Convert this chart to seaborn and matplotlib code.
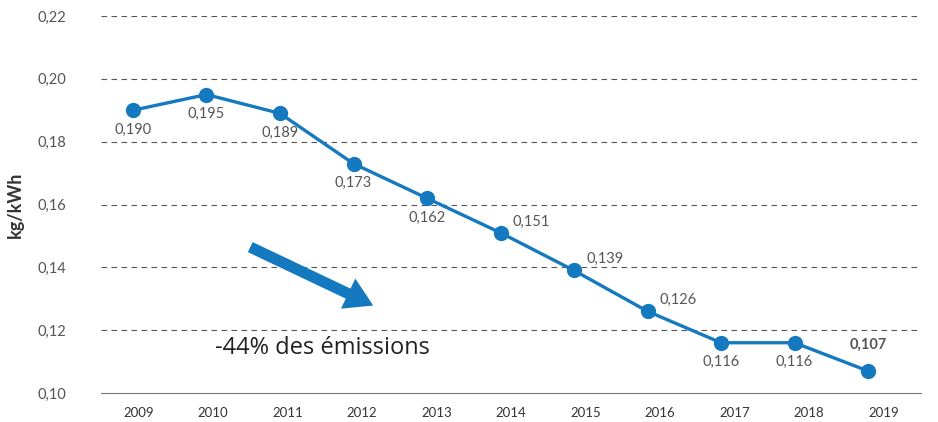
import matplotlib
matplotlib.use("Agg")
import matplotlib.pyplot as plt
import seaborn as sns
import pandas as pd

years = ["2009", "2010", "2011", "2012", "2013", "2014", "2015", "2016", "2017", "2018", "2019"]
values = [0.190, 0.195, 0.189, 0.173, 0.162, 0.151, 0.139, 0.126, 0.116, 0.116, 0.107]
# where each value label goes: below, upper-right or above
label_pos = ["below", "below", "below", "below", "below", "right", "right", "right", "below", "below", "above"]
y_ticks = [0.10, 0.12, 0.14, 0.16, 0.18, 0.20, 0.22]

blue = "#1579bf"
grey = "#555555"

sns.set_theme(style="white")
plt.rcParams["font.family"] = ["Lato", "DejaVu Sans"]

df = pd.DataFrame({"year": years, "value": values})
df["pos"] = range(len(years))

fig = plt.figure(figsize=(9.38, 4.22), dpi=100)
ax = fig.add_axes([101 / 938, 1 - 393 / 422, 820 / 938, 377 / 422])

sns.lineplot(data=df, x="pos", y="value", ax=ax, color=blue, linewidth=2.4,
             marker="o", markersize=11, markeredgewidth=0, sort=False)

# points sit a little left of the year bands in the original
x0, x1 = -0.435, len(years) - 1 + 0.72
band = (x1 - x0) / len(years)
ax.set_xlim(x0, x1)
ax.set_ylim(0.10, 0.22)

ax.set_yticks(y_ticks)
ax.set_yticklabels([f"{t:.2f}".replace(".", ",") for t in y_ticks], color=grey, fontsize=10.5)
for t in y_ticks[1:]:
    ax.axhline(t, color="#555555", linestyle=(0, (5, 4)), linewidth=0.8, zorder=0)

ax.set_xticks([x0 + band * (k + 0.5) for k in range(len(years))])
ax.set_xticklabels(years, fontsize=9.5, color="#333333")
ax.set_xticks([x0 + band * k for k in range(len(years) + 1)], minor=True)
ax.tick_params(axis="x", which="major", length=0, pad=10)
ax.tick_params(axis="x", which="minor", length=6, width=0.8, color="#777777", direction="out")
ax.tick_params(axis="y", length=0, pad=25)

for s in ["left", "right", "top"]:
    ax.spines[s].set_visible(False)
ax.spines["bottom"].set_color("#777777")
ax.spines["bottom"].set_linewidth(0.8)

ax.set_xlabel("")
ax.set_ylabel("kg/kWh", fontsize=13, fontweight="bold", color="#333333", labelpad=10)

for i, (v, p) in enumerate(zip(values, label_pos)):
    txt = f"{v:.3f}".replace(".", ",")
    if p == "below":
        ax.annotate(txt, (i, v), xytext=(0, -14), textcoords="offset points",
                    ha="center", va="center", fontsize=10.5, color=grey)
    elif p == "right":
        ax.annotate(txt, (i, v), xytext=(22, 8), textcoords="offset points",
                    ha="center", va="center", fontsize=10.5, color=grey)
    else:
        ax.annotate(txt, (i, v), xytext=(0, 19), textcoords="offset points",
                    ha="center", va="center", fontsize=10.5, color=grey, fontweight="bold")

ax.annotate("", xy=(0.332, 0.232), xytext=(0.182, 0.387), xycoords="axes fraction",
            arrowprops=dict(facecolor=blue, edgecolor="none", width=8, headwidth=24, headlength=20))
ax.text(0.27, 0.12, "-44% des émissions", transform=ax.transAxes, ha="center", va="center",
        fontsize=17, color="#222222", family=["Open Sans", "DejaVu Sans"])

fig.savefig("out.png", dpi=100)
